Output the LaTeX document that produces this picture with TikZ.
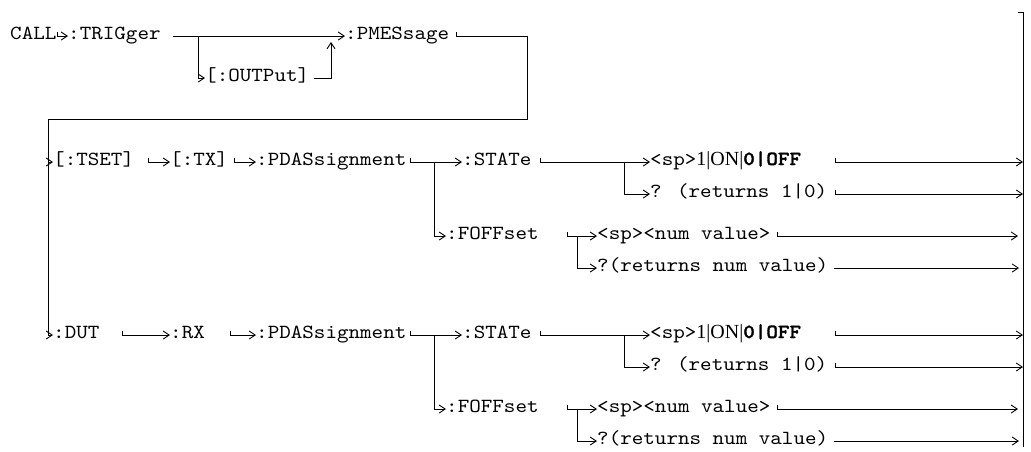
\documentclass[tikz,border=0pt]{standalone}
\usepackage{fontspec}
\usepackage{tikz}
\usetikzlibrary{arrows.meta}
\newfontfamily\kwfamily{lmmono10-regular.otf}[FakeStretch=1.1,BoldFont=lmmonolt10-bold.otf,BoldFeatures={FakeBold=1.5}]
\newfontfamily\valfamily{Liberation Serif}
\newcommand{\kwfont}{\fontsize{20}{24}\selectfont\kwfamily}

\begin{document}
\begin{tikzpicture}[x=1pt,y=-1pt,
  kw/.style={font=\kwfont,inner sep=0pt,text height=10pt,text depth=4pt,anchor=west},
  link/.style={line width=0.9pt,-{Straight Barb[length=6pt,width=8pt,line width=0.9pt]}},
  wire/.style={line width=0.9pt}
]
\useasboundingbox (0,0) rectangle (1031,451);
% keywords, first level
\node[kw] (call) at (10,36) {CALL};
\node[kw] (trig) at (68,36) {:TRIGger};
\node[kw] (outp) at (205,78) {[:OUTPut]};
\node[kw] (pmes) at (345,36) {:PMESsage};
% TX branch
\node[kw] (tset) at (53,162) {[:TSET]};
\node[kw] (tx) at (170,162) {[:TX]};
\node[kw] (pdasA) at (256,162) {:PDASsignment};
\node[kw] (stateA) at (462,162) {:STATe};
\node[kw] (foffA) at (446,236) {:FOFFset};
\node[kw] (onA) at (650,162) {<sp>{\valfamily 1|ON|}{\bfseries 0|OFF}};
\node[kw] (retA) at (650,194) {? (returns 1|0)};
\node[kw] (numA) at (597,236) {<sp><num value>};
\node[kw] (qnumA) at (597,268) {?(returns num value)};
% RX branch
\node[kw] (dut) at (53,335) {:DUT};
\node[kw] (rx) at (170,335) {:RX};
\node[kw] (pdasB) at (256,335) {:PDASsignment};
\node[kw] (stateB) at (462,335) {:STATe};
\node[kw] (foffB) at (446,409) {:FOFFset};
\node[kw] (onB) at (650,335) {<sp>{\valfamily 1|ON|}{\bfseries 0|OFF}};
\node[kw] (retB) at (650,367) {? (returns 1|0)};
\node[kw] (numB) at (597,409) {<sp><num value>};
\node[kw] (qnumB) at (597,441) {?(returns num value)};
% fork points
\coordinate (trigfork) at (198,36);
\coordinate (outjoin) at (331,42);
\coordinate (pmesdrop) at (527,119);
\coordinate (spine) at (48,119);
\coordinate (forkA) at (434,162);
\coordinate (stforkA) at (624,162);
\coordinate (foforkA) at (577,236);
\coordinate (forkB) at (434,335);
\coordinate (stforkB) at (624,335);
\coordinate (foforkB) at (577,409);
\coordinate (tail) at (835,0);
\coordinate (bartop) at (1023,12);
\coordinate (barbot) at (1023,447);
% first level
\draw[link] ([xshift=-11pt]trig.west) ++(0,-4) -- ++(0,4) -- (trig.west);
\draw[link] ([xshift=12pt]trig.east) -- (pmes.west);
\draw[link] (trigfork) |- (outp.west);
\draw[link] ([xshift=5pt]outp.east) -| (outjoin);
\draw[link] ([xshift=7pt]pmes.east) ++(0,-4) -- ++(0,4) -| (pmesdrop) -- (spine) |- (dut.west);
\draw[link] (spine) |- (tset.west);
% TX branch
\draw[link] ([xshift=-22pt]tx.west) ++(0,-4) -- ++(0,4) -- (tx.west);
\draw[link] ([xshift=-22pt]pdasA.west) ++(0,-4) -- ++(0,4) -- (pdasA.west);
\draw[link] ([xshift=4pt]pdasA.east) ++(0,-4) -- ++(0,4) -- (stateA.west);
\draw[link] (forkA) |- (foffA.west);
\draw[link] ([xshift=9pt]stateA.east) ++(0,-4) -- ++(0,4) -- (onA.west);
\draw[link] (stforkA) |- (retA.west);
\draw[link] (onA -| tail) ++(0,-4) -- ++(0,4) -- (onA -| bartop);
\draw[link] (retA -| tail) ++(0,-4) -- ++(0,4) -- (retA -| bartop);
\draw[link] ([xshift=-30pt]numA.west) ++(0,-4) -- ++(0,4) -- (numA.west);
\draw[link] (foforkA) |- (qnumA.west);
\draw[link] ([xshift=7pt]numA.east) ++(0,-4) -- ++(0,4) -- ([xshift=-5pt]numA -| bartop);
\draw[link] ([xshift=6pt]qnumA.east) -- ([xshift=-4pt]qnumA -| bartop);
% RX branch
\draw[link] ([xshift=-48pt]rx.west) ++(0,-4) -- ++(0,4) -- (rx.west);
\draw[link] ([xshift=-26pt]pdasB.west) ++(0,-4) -- ++(0,4) -- (pdasB.west);
\draw[link] ([xshift=4pt]pdasB.east) ++(0,-4) -- ++(0,4) -- (stateB.west);
\draw[link] (forkB) |- (foffB.west);
\draw[link] ([xshift=9pt]stateB.east) ++(0,-4) -- ++(0,4) -- (onB.west);
\draw[link] (stforkB) |- (retB.west);
\draw[link] (onB -| tail) ++(0,-4) -- ++(0,4) -- (onB -| bartop);
\draw[link] (retB -| tail) ++(0,-4) -- ++(0,4) -- (retB -| bartop);
\draw[link] ([xshift=-30pt]numB.west) ++(0,-4) -- ++(0,4) -- (numB.west);
\draw[link] (foforkB) |- (qnumB.west);
\draw[link] ([xshift=7pt]numB.east) ++(0,-4) -- ++(0,4) -- ([xshift=-5pt]numB -| bartop);
\draw[link] ([xshift=6pt]qnumB.east) -- ([xshift=-4pt]qnumB -| bartop);
% right rail
\draw[wire] ([xshift=-5pt]bartop) -- (bartop) -- (barbot);
\end{tikzpicture}
\end{document}
